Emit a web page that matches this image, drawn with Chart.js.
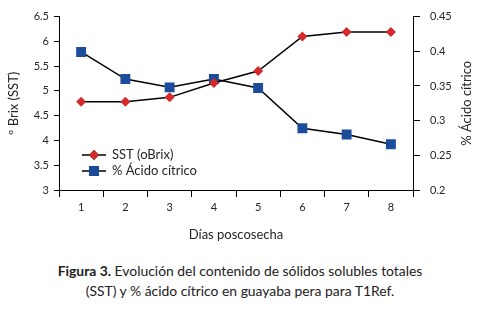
<!DOCTYPE html>
<html>
<head>
<meta charset="utf-8">
<script src="https://cdn.jsdelivr.net/npm/chart.js@4/dist/chart.umd.min.js"></script>
<style>
  body { margin: 0; background: #fff; width: 480px; height: 309px; overflow: hidden; }
  #wrap { position: absolute; left: 0; top: 0; width: 480px; height: 250px; }
  #caption {
    position: absolute; left: 0; top: 261px; width: 480px; text-align: center;
    font-family: Lato, sans-serif; font-size: 13.9px; line-height: 20px; color: #222;
  }
</style>
</head>
<body>
<div id="wrap"><canvas id="grafico"></canvas></div>
<div id="caption"><b>Figura 3.</b> Evolución del contenido de sólidos solubles totales<br>(SST) y % ácido cítrico en guayaba pera para T1Ref.</div>
<script>
// dias poscosecha
const dias = ["1", "2", "3", "4", "5", "6", "7", "8"];
const sst = [4.78, 4.78, 4.87, 5.16, 5.40, 6.10, 6.19, 6.19];
const acidoCitrico = [0.399, 0.360, 0.348, 0.360, 0.347, 0.289, 0.280, 0.266];

const fonte = "Lato, sans-serif";
const corTexto = "#262626";

// numero sem zeros a direita (6 e nao 6.0)
function formatar(v) {
  return String(Math.round(v * 1000) / 1000);
}

function tituloVertical(ctx, texto, x, y) {
  ctx.save();
  ctx.translate(x, y);
  ctx.rotate(-Math.PI / 2);
  ctx.fillStyle = corTexto;
  ctx.font = "13px " + fonte;
  ctx.textAlign = "center";
  ctx.textBaseline = "middle";
  ctx.fillText(texto, 0, 0);
  ctx.restore();
}

// legenda dentro da area + titulos dos eixos y (lidos de baixo p/ cima)
const extras = {
  id: "extras",
  afterDraw(chart) {
    const ctx = chart.ctx;
    const x0 = 82, linhas = [155, 171];
    chart.data.datasets.forEach((ds, i) => {
      const y = linhas[i];
      ctx.save();
      ctx.strokeStyle = "#000";
      ctx.lineWidth = 1.5;
      ctx.beginPath();
      ctx.moveTo(x0, y);
      ctx.lineTo(x0 + 24, y);
      ctx.stroke();
      Chart.helpers.drawPoint(ctx, {
        pointStyle: ds.pointStyle,
        radius: ds.pointRadius,
        borderWidth: 0
      }, x0 + 12, y);
      ctx.fillStyle = ds.pointBackgroundColor;
      ctx.fill();
      ctx.fillStyle = corTexto;
      ctx.font = "13px " + fonte;
      ctx.textBaseline = "middle";
      ctx.fillText(ds.label, x0 + 30, y);
      ctx.restore();
    });

    const area = chart.chartArea;
    const meio = (area.top + area.bottom) / 2;
    tituloVertical(ctx, "º Brix (SST)", 14, meio);
    tituloVertical(ctx, "% Ácido cítrico", 467, meio);
  }
};

const config = {
  type: "line",
  data: {
    labels: dias,
    datasets: [
      {
        label: "SST (oBrix)",
        data: sst,
        yAxisID: "y",
        borderColor: "#000",
        borderWidth: 1.5,
        pointStyle: "rectRot",
        pointRadius: 5,
        pointBackgroundColor: "#d42a2a",
        pointBorderWidth: 0,
        tension: 0
      },
      {
        label: "% Ácido cítrico",
        data: acidoCitrico,
        yAxisID: "y1",
        borderColor: "#000",
        borderWidth: 1.5,
        pointStyle: "rect",
        pointRadius: 7,
        pointBackgroundColor: "#1c4c9c",
        pointBorderWidth: 0,
        tension: 0
      }
    ]
  },
  options: {
    responsive: true,
    maintainAspectRatio: false,
    animation: false,
    layout: { padding: { left: 0, right: 0, top: 16, bottom: 0 } },
    plugins: { legend: { display: false }, tooltip: { enabled: false } },
    scales: {
      x: {
        offset: true,
        grid: { offset: true, drawOnChartArea: false, color: "#000", tickLength: 7 },
        border: { color: "#000", width: 1 },
        ticks: { color: corTexto, font: { family: fonte, size: 11 }, padding: 4 },
        title: { display: true, text: "Días poscosecha", color: corTexto, font: { family: fonte, size: 13 }, padding: { top: 0, bottom: 7 } },
        afterFit(s) { s.height = 60; }
      },
      y: {
        position: "left",
        min: 3, max: 6.5,
        grid: { drawOnChartArea: false, color: "#000", tickLength: 5 },
        border: { color: "#000", width: 1 },
        ticks: { stepSize: 0.5, color: corTexto, font: { family: fonte, size: 11 }, padding: 5, callback: formatar },
        afterFit(s) { s.width = 59; }
      },
      y1: {
        position: "right",
        min: 0.2, max: 0.45,
        grid: { drawOnChartArea: false, color: "#000", tickLength: 7 },
        border: { color: "#000", width: 1 },
        ticks: { stepSize: 0.05, color: corTexto, font: { family: fonte, size: 11 }, padding: 10, callback: formatar },
        afterFit(s) { s.width = 67; }
      }
    }
  },
  plugins: [extras]
};

new Chart(document.getElementById("grafico"), config);
</script>
</body>
</html>
